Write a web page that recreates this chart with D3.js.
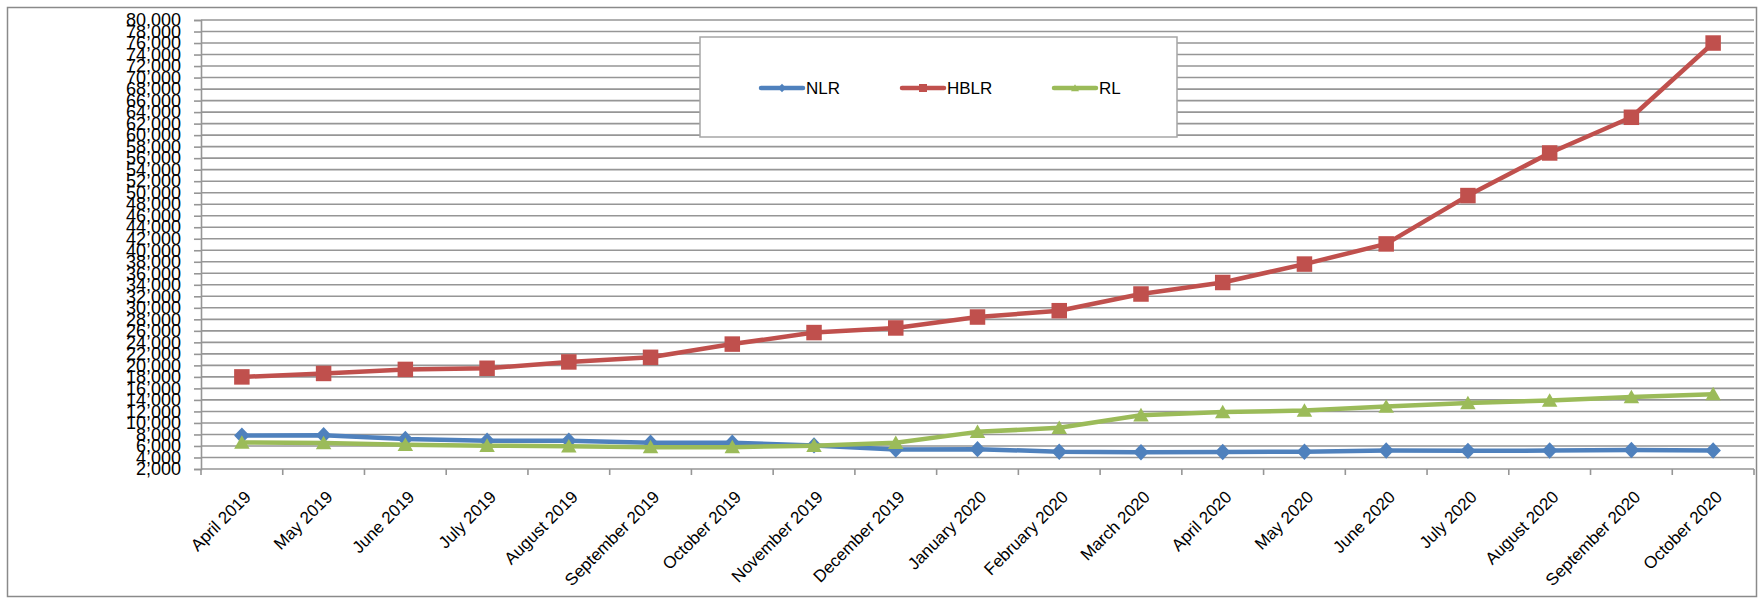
<!DOCTYPE html>
<html>
<head>
<meta charset="utf-8">
<script src="https://cdn.jsdelivr.net/npm/d3@7"></script>
<style>
  html, body { margin: 0; padding: 0; background: #fff; }
  svg { display: block; font-family: "Liberation Sans", Arial, sans-serif; }
</style>
</head>
<body>
<svg id="chart" width="1760" height="600"></svg>
<script>
// Monthly categories
const months = [
  "April 2019", "May 2019", "June 2019", "July 2019", "August 2019",
  "September 2019", "October 2019", "November 2019", "December 2019",
  "January 2020", "February 2020", "March 2020", "April 2020", "May 2020",
  "June 2020", "July 2020", "August 2020", "September 2020", "October 2020"
];

// Series values
const nlr  = [7800, 7850, 7200, 6900, 6900, 6550, 6550, 6100, 5400, 5450, 5000, 4900, 4950, 5000, 5200, 5150, 5200, 5300, 5200];
const hblr = [18000, 18600, 19300, 19500, 20600, 21400, 23700, 25700, 26500, 28400, 29500, 32400, 34400, 37600, 41100, 49500, 56900, 63100, 76000];
const rl   = [6600, 6500, 6200, 6050, 5950, 5800, 5800, 6050, 6550, 8450, 9150, 11350, 11900, 12150, 12850, 13450, 13900, 14500, 15000];

// Value-axis ticks
const yTicks = d3.range(2000, 80001, 2000);

const seriesNames = ["NLR", "HBLR", "RL"];
const seriesValues = [nlr, hblr, rl];
const colors = ["#4F81BD", "#C0504D", "#9BBB59"];
const shapes = ["diamond", "square", "triangle"];

const svg = d3.select("#chart");
const gridColor = "#969696";

const plot = { left: 201, right: 1754, top: 20, bottom: 469 };

const x = d3.scaleBand().domain(months).range([plot.left, plot.right]).padding(0);
const y = d3.scaleLinear().domain([2000, 80000]).range([plot.bottom, plot.top]);
const cx = m => x(m) + x.bandwidth() / 2;

// Outer chart frame
svg.append("rect")
  .attr("x", 7.5).attr("y", 7.5).attr("width", 1749).attr("height", 589)
  .attr("fill", "#fff").attr("stroke", "#8a8a8a").attr("stroke-width", 1.5);

// Horizontal gridlines
svg.append("g").selectAll("line")
  .data(yTicks.filter(t => t > 2000))
  .join("line")
  .attr("x1", plot.left).attr("x2", plot.right)
  .attr("y1", d => y(d)).attr("y2", d => y(d))
  .attr("stroke", gridColor).attr("stroke-width", 1.6);

// Value axis
const yAxis = d3.axisLeft(y).tickValues(yTicks).tickFormat(d3.format(",")).tickSize(7).tickPadding(13);
const gy = svg.append("g").attr("transform", `translate(${plot.left},0)`).call(yAxis);
gy.select(".domain").attr("stroke", gridColor).attr("stroke-width", 1.6);
gy.selectAll(".tick line").attr("stroke", gridColor).attr("stroke-width", 1.6);
gy.selectAll(".tick text")
  .attr("font-size", 18).attr("fill", "#000")
  .attr("font-family", "'Liberation Sans', Arial, sans-serif");

// Category axis: ticks sit on the band boundaries
const boundaries = months.map(m => x(m)).concat([plot.right]);
svg.append("line")
  .attr("x1", plot.left).attr("x2", plot.right)
  .attr("y1", plot.bottom).attr("y2", plot.bottom)
  .attr("stroke", gridColor).attr("stroke-width", 1.6);
svg.append("g").selectAll("line")
  .data(boundaries)
  .join("line")
  .attr("x1", d => d).attr("x2", d => d)
  .attr("y1", plot.bottom).attr("y2", plot.bottom + 6)
  .attr("stroke", gridColor).attr("stroke-width", 1.6);

svg.append("g").selectAll("text")
  .data(months)
  .join("text")
  .attr("transform", d => `translate(${cx(d) + 10},${plot.bottom + 29}) rotate(-45)`)
  .attr("text-anchor", "end")
  .attr("font-size", 17)
  .attr("fill", "#000")
  .text(d => d);

// Marker shapes
function markerPath(shape, s) {
  const h = s / 2;
  if (shape === "square") return `M${-h},${-h}H${h}V${h}H${-h}Z`;
  if (shape === "diamond") return `M0,${-h * 1.06}L${h},0L0,${h * 1.06}L${-h},0Z`;
  return `M0,${-h * 0.95}L${h},${h * 0.8}L${-h},${h * 0.8}Z`;
}

const line = d3.line().x(d => cx(d.m)).y(d => y(d.v));

seriesValues.forEach((vals, i) => {
  const pts = vals.map((v, j) => ({ m: months[j], v }));
  const g = svg.append("g");
  g.append("path")
    .attr("d", line(pts))
    .attr("fill", "none")
    .attr("stroke", colors[i])
    .attr("stroke-width", 4.5)
    .attr("stroke-linejoin", "round")
    .attr("stroke-linecap", "round");
  g.selectAll("path.mk")
    .data(pts)
    .join("path")
    .attr("class", "mk")
    .attr("transform", d => `translate(${cx(d.m)},${y(d.v)})`)
    .attr("d", markerPath(shapes[i], 15.5))
    .attr("fill", colors[i]);
});

// Legend
const legend = svg.append("g");
legend.append("rect")
  .attr("x", 700).attr("y", 37).attr("width", 477).attr("height", 100)
  .attr("fill", "#fff").attr("stroke", "#a6a6a6").attr("stroke-width", 1.5);

const legendX = [761, 902, 1054];
seriesNames.forEach((name, i) => {
  const lx = legendX[i], ly = 88;
  legend.append("line")
    .attr("x1", lx).attr("x2", lx + 42)
    .attr("y1", ly).attr("y2", ly)
    .attr("stroke", colors[i]).attr("stroke-width", 4.5)
    .attr("stroke-linecap", "round");
  legend.append("path")
    .attr("transform", `translate(${lx + 21},${ly})`)
    .attr("d", markerPath(shapes[i], 8))
    .attr("fill", colors[i]);
  legend.append("text")
    .attr("x", lx + 45).attr("y", ly + 6)
    .attr("font-size", 17)
    .attr("fill", "#000")
    .text(name);
});
</script>
</body>
</html>
